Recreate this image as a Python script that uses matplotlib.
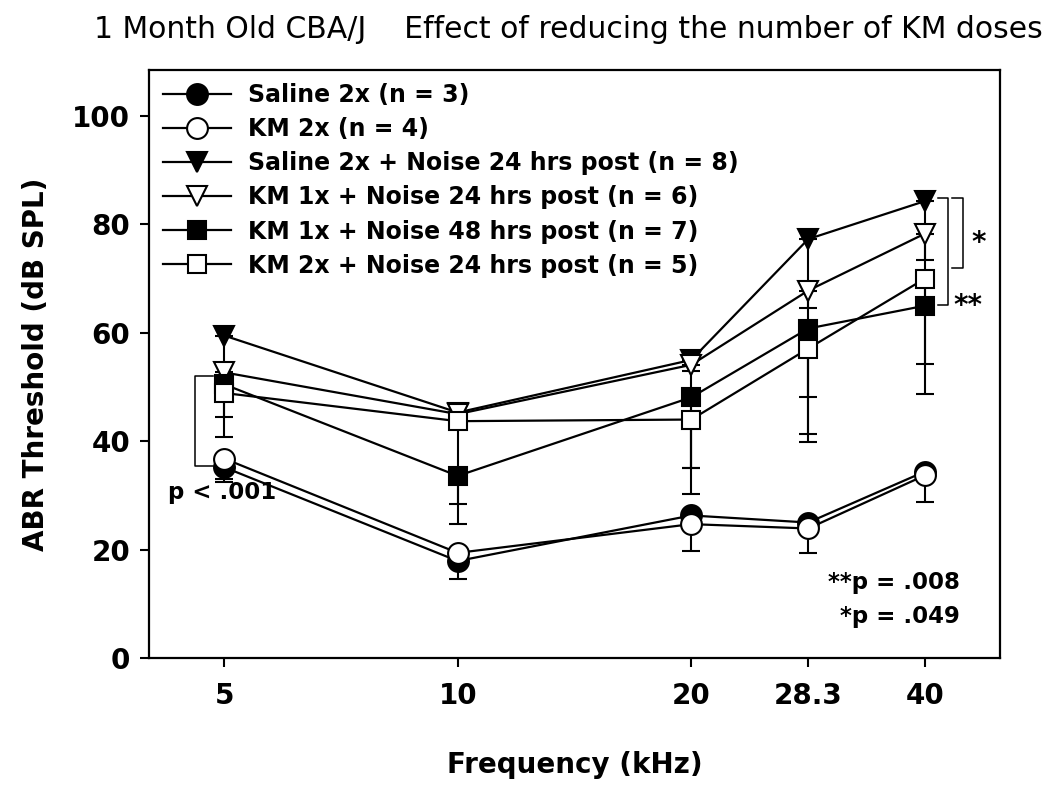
import numpy as np
import matplotlib
matplotlib.use('Agg')
import matplotlib.pyplot as plt

plt.rcParams['font.family'] = ['DejaVu Sans']

# ---------------- data ----------------
freqs = [5, 10, 20, 28.3, 40]
freq_labels = ['5', '10', '20', '28.3', '40']
y_ticks = [0, 20, 40, 60, 80, 100]

series_labels = [
    'Saline 2x (n = 3)',
    'KM 2x (n = 4)',
    'Saline 2x + Noise 24 hrs post (n = 8)',
    'KM 1x + Noise 24 hrs post (n = 6)',
    'KM 1x + Noise 48 hrs post (n = 7)',
    'KM 2x + Noise 24 hrs post (n = 5)',
]

saline_2x = [35.2, 17.9, 26.3, 25.0, 34.4]
saline_2x_err = [2.7, 1.0, 1.0, 1.0, 1.0]
km_2x = [36.8, 19.4, 24.7, 23.9, 33.7]
km_2x_err = [3.7, 4.9, 4.9, 4.6, 5.0]
saline_noise24 = [59.5, 45.3, 55.0, 77.3, 84.3]
saline_noise24_err = [15.1, 2.0, 2.0, 12.8, 10.8]
km1x_noise24 = [52.7, 45.0, 54.1, 67.8, 78.3]
km1x_noise24_err = [12.0, 2.0, 19.1, 19.6, 24.0]
km1x_noise48 = [50.5, 33.6, 48.1, 60.8, 65.0]
km1x_noise48_err = [1.5, 8.9, 17.9, 19.4, 1.0]
km2x_noise24 = [48.9, 43.7, 44.0, 57.1, 70.0]
km2x_noise24_err = [1.5, 15.2, 9.0, 17.3, 21.2]

title_text = '1 Month Old CBA/J    Effect of reducing the number of KM doses'

# ---------------- figure ----------------
fig = plt.figure(figsize=(10.5, 7.88), dpi=100)
ax = fig.add_axes([149 / 1050, 1 - 658 / 788, 851 / 1050, 588 / 788])

series = [
    (saline_2x, saline_2x_err, 'o', 'black'),
    (km_2x, km_2x_err, 'o', 'white'),
    (saline_noise24, saline_noise24_err, 'v', 'black'),
    (km1x_noise24, km1x_noise24_err, 'v', 'white'),
    (km1x_noise48, km1x_noise48_err, 's', 'black'),
    (km2x_noise24, km2x_noise24_err, 's', 'white'),
]

for i, ((vals, err, mk, fc), lab) in enumerate(zip(series, series_labels)):
    ax.errorbar(freqs, vals, yerr=[err, np.zeros(len(err))], fmt='none',
                ecolor='black', elinewidth=1.5, capsize=6.2, capthick=1.5,
                zorder=1 + i * 0.01)
    ms = 15 if mk != 's' else 13.5
    ax.plot(freqs, vals, color='black', lw=1.6, marker=mk, ms=ms,
            mfc=fc, mec='black', mew=1.5, label=lab, zorder=3 + i * 0.1)

ax.set_xscale('log', base=2)
ax.set_xlim(4, 50)
ax.set_ylim(0, 108.5)
ax.set_xticks(freqs)
ax.set_xticklabels(freq_labels)
ax.xaxis.set_minor_locator(matplotlib.ticker.NullLocator())
ax.set_yticks(y_ticks)
ax.set_yticklabels([str(t) for t in y_ticks])

for lab in ax.get_xticklabels() + ax.get_yticklabels():
    lab.set_fontweight('bold')
    lab.set_fontsize(20)

ax.tick_params(axis='both', direction='out', length=6.5, width=1.5, color='black')
ax.tick_params(axis='x', pad=11)
ax.tick_params(axis='y', pad=7)
ax.tick_params(top=False, right=False)
for sp in ax.spines.values():
    sp.set_linewidth(1.6)
    sp.set_color('black')

# legend
leg = ax.legend(loc='upper left', bbox_to_anchor=(0.016, 0.978), frameon=False,
                prop={'weight': 'bold', 'size': 17}, handlelength=2.9,
                handletextpad=0.7, labelspacing=0.43, borderpad=0,
                borderaxespad=0)

# bracket at 5 kHz
ax.plot([4.83, 4.59, 4.59, 4.83], [52.1, 52.1, 35.4, 35.4], color='black', lw=1.1, zorder=2)
# brackets at 40 kHz
ax.plot([43.4, 44.8, 44.8, 43.4], [84.9, 84.9, 72.0, 72.0], color='black', lw=1.1, zorder=2)
ax.plot([41.6, 42.8, 42.8, 41.6], [84.9, 84.9, 65.2, 65.2], color='black', lw=1.1, zorder=2)
ax.text(45.9, 76.6, '*', fontsize=20, fontweight='bold', ha='left', va='center')
ax.text(43.5, 65.0, '**', fontsize=20, fontweight='bold', ha='left', va='center')

ax.text(0.022, 0.282, 'p < .001', transform=ax.transAxes, fontsize=16.5,
        fontweight='bold', ha='left', va='center')
ax.text(0.953, 0.129, '**p = .008', transform=ax.transAxes, fontsize=16.5,
        fontweight='bold', ha='right', va='center')
ax.text(0.953, 0.070, '*p = .049', transform=ax.transAxes, fontsize=16.5,
        fontweight='bold', ha='right', va='center')

# titles and labels
fig.text(0.541, 0.962, title_text, fontsize=21.5, ha='center', va='center')
fig.text(0.034, 0.538, 'ABR Threshold (dB SPL)', fontsize=20, fontweight='bold',
         rotation=90, ha='center', va='center')
fig.text(0.547, 1 - 765 / 788, 'Frequency (kHz)', fontsize=20, fontweight='bold',
         ha='center', va='center')

fig.savefig('out.png', dpi=100)
